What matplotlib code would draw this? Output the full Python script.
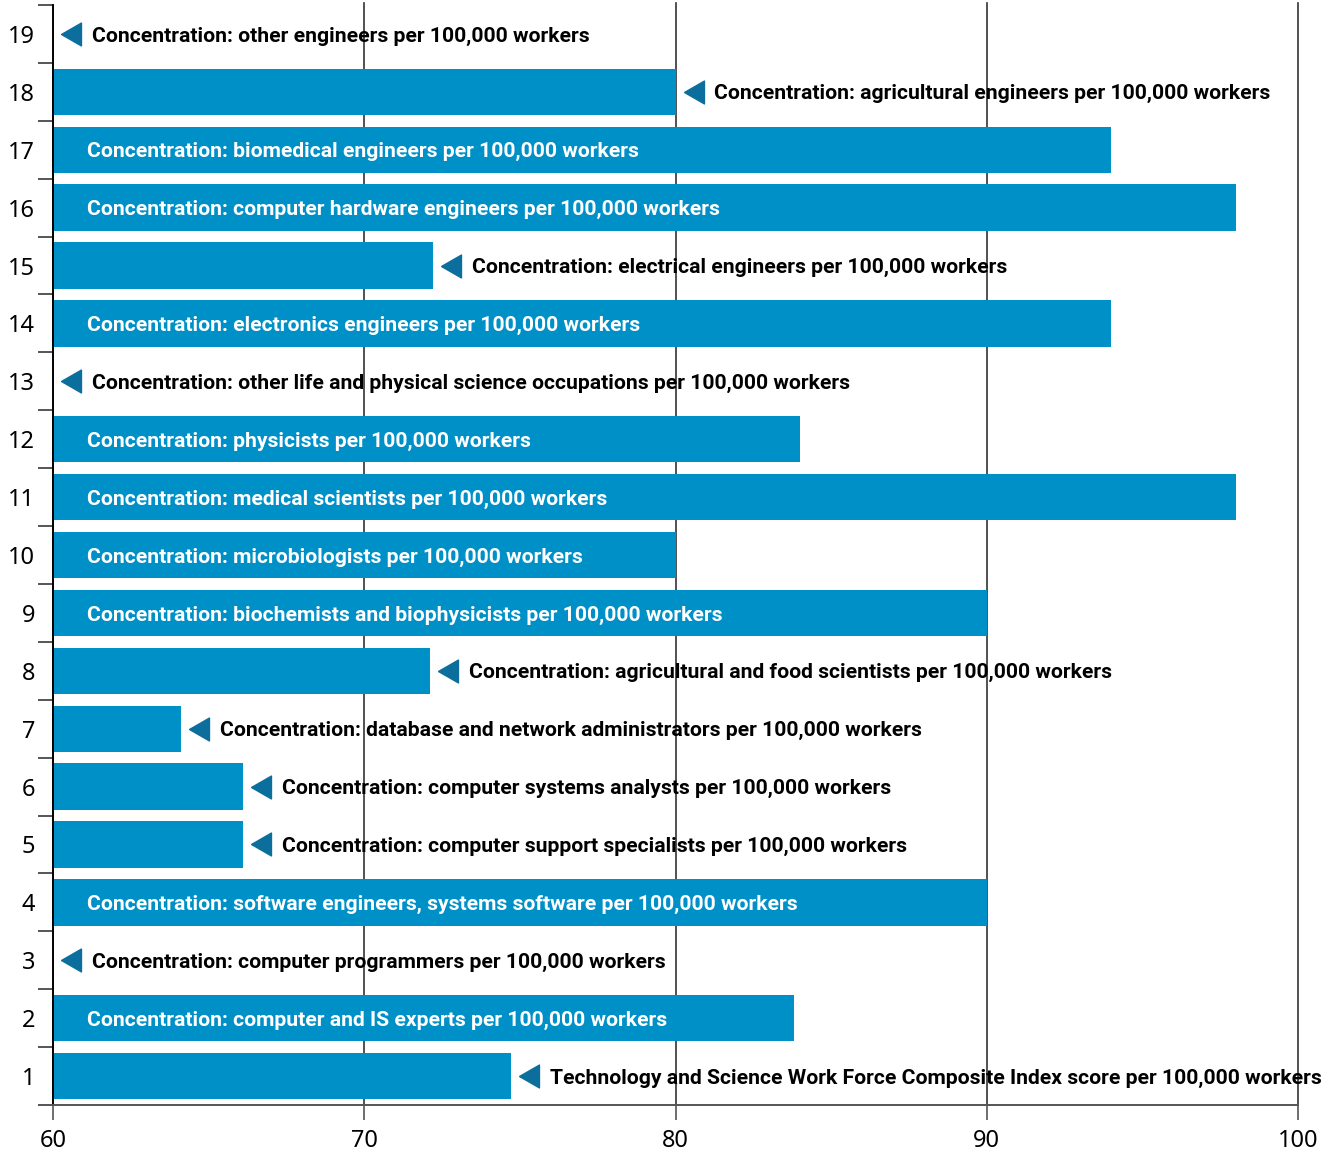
import matplotlib
matplotlib.use("Agg")
import matplotlib.pyplot as plt
from matplotlib.transforms import ScaledTranslation

# Row numbers (bottom to top) and their concentration scores
rows = list(range(1, 20))
values = [74.7, 83.8, 60.0, 90.0, 66.1, 66.1, 64.1, 72.1, 90.0, 80.0,
          98.0, 84.0, 60.0, 94.0, 72.2, 98.0, 94.0, 80.0, 60.0]
labels = [
    "Technology and Science Work Force Composite Index score per 100,000 workers",
    "Concentration: computer and IS experts per 100,000 workers",
    "Concentration: computer programmers per 100,000 workers",
    "Concentration: software engineers, systems software per 100,000 workers",
    "Concentration: computer support specialists per 100,000 workers",
    "Concentration: computer systems analysts per 100,000 workers",
    "Concentration: database and network administrators per 100,000 workers",
    "Concentration: agricultural and food scientists per 100,000 workers",
    "Concentration: biochemists and biophysicists per 100,000 workers",
    "Concentration: microbiologists per 100,000 workers",
    "Concentration: medical scientists per 100,000 workers",
    "Concentration: physicists per 100,000 workers",
    "Concentration: other life and physical science occupations per 100,000 workers",
    "Concentration: electronics engineers per 100,000 workers",
    "Concentration: electrical engineers per 100,000 workers",
    "Concentration: computer hardware engineers per 100,000 workers",
    "Concentration: biomedical engineers per 100,000 workers",
    "Concentration: agricultural engineers per 100,000 workers",
    "Concentration: other engineers per 100,000 workers",
]
x_ticks = [60, 70, 80, 90, 100]

# Where each label is drawn: inside the bar (white) or after it with a pointer
placement = ["out", "in", "out", "in", "out", "out", "out", "out", "in", "in",
             "in", "in", "out", "in", "out", "in", "in", "out", "out"]

BAR = "#0090c8"
POINTER = "#0b6e9c"
LABEL_FONT = ["Roboto", "DejaVu Sans"]
TICK_FONT = ["Noto Sans", "DejaVu Sans"]
LABEL_SIZE = 15.2

fig = plt.figure(figsize=(13.34, 11.54), dpi=100)
ax = fig.add_axes([53 / 1334, 49 / 1154, 1245 / 1334, 1100 / 1154])

x0 = x_ticks[0]
ax.barh(rows, [v - x0 for v in values], left=x0, height=0.8,
        color=BAR, zorder=2)

ax.set_xlim(x_ticks[0], x_ticks[-1])
ax.set_ylim(0.5, 19.5)

# vertical reference lines behind the bars
for xt in x_ticks[1:]:
    ax.axvline(xt, ymin=0, ymax=1.002, color="#333333", lw=1.2,
               zorder=1, clip_on=False)

def px(dx, dy=0):
    return ScaledTranslation(dx / fig.dpi, dy / fig.dpi, fig.dpi_scale_trans)

# baseline shift so capitals sit centred on the row
BASE_DY = -7.5

tri = [(-1, 0), (1, -1.15), (1, 1.15), (-1, 0)]
for r, v, lab, pl in zip(rows, values, labels, placement):
    if pl == "in":
        ax.text(x0, r, lab, transform=ax.transData + px(34, BASE_DY),
                ha="left", va="baseline", color="white", fontsize=LABEL_SIZE,
                fontweight="bold", family=LABEL_FONT, zorder=4)
    else:
        ax.plot([v], [r], marker=tri, markersize=16.5, color=POINTER,
                transform=ax.transData + px(18), zorder=4, clip_on=False)
        ax.text(v, r, lab, transform=ax.transData + px(39, BASE_DY),
                ha="left", va="baseline", color="black", fontsize=LABEL_SIZE,
                fontweight="bold", family=LABEL_FONT, zorder=4)

# axes styling
for s in ("top", "right"):
    ax.spines[s].set_visible(False)
ax.spines["left"].set_color("black")
ax.spines["left"].set_linewidth(1.4)
ax.spines["bottom"].set_color("#555555")
ax.spines["bottom"].set_linewidth(1.4)

ax.set_xticks(x_ticks)
ax.set_xticklabels([str(t) for t in x_ticks], family=TICK_FONT, fontsize=17)
ax.tick_params(axis="x", length=11, width=1.2, color="#555555", pad=6)

ax.set_yticks(rows)
ax.set_yticklabels([str(r) for r in rows], family=TICK_FONT, fontsize=17)
ax.set_yticks([r - 0.5 for r in rows] + [rows[-1] + 0.5], minor=True)
ax.tick_params(axis="y", which="major", length=0, pad=13)
ax.tick_params(axis="y", which="minor", length=11, width=1.4, color="#555555")

fig.savefig("out.png", dpi=100)
